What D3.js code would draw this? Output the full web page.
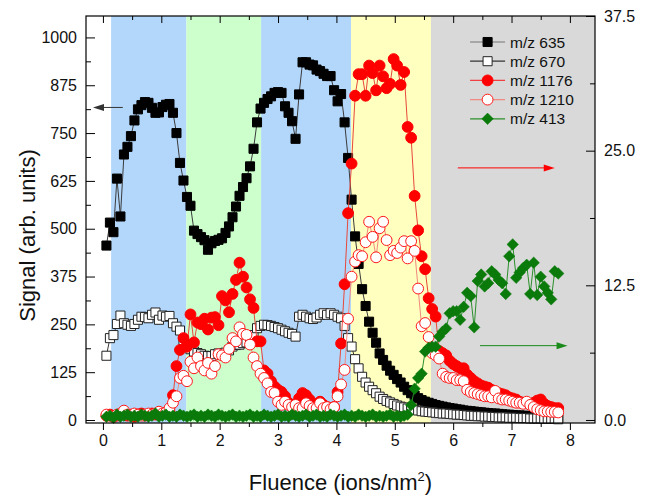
<!DOCTYPE html>
<html>
<head>
<meta charset="utf-8">
<script src="https://d3js.org/d3.v7.min.js"></script>
<style>
  body { margin: 0; background: #fff; }
  text { font-family: "Liberation Sans", Arial, sans-serif; fill: #111; }
  .tick text { font-size: 16px; }
  .tick line { stroke: #000; stroke-width: 1px; }
  .axis-title { font-size: 22px; }
  .legend text { font-size: 15.5px; }
</style>
</head>
<body>
<div id="chart"></div>
<script>
// fluence values (ions/nm^2), shared by every series
const fluence = [0.06,0.12,0.18,0.24,0.30,0.36,0.42,0.48,0.54,0.60,0.66,0.72,0.78,0.84,0.90,0.96,1.02,1.08,1.14,1.20,
  1.26,1.32,1.38,1.44,1.50,1.56,1.62,1.68,1.74,1.80,1.86,1.92,1.98,2.04,2.10,2.16,2.22,2.28,2.34,2.40,
  2.46,2.52,2.58,2.64,2.70,2.76,2.82,2.88,2.94,3.00,3.06,3.12,3.18,3.24,3.30,3.36,3.42,3.48,3.54,3.60,
  3.66,3.72,3.78,3.84,3.90,3.96,4.02,4.08,4.14,4.20,4.26,4.32,4.38,4.44,4.50,4.56,4.62,4.68,4.74,4.80,
  4.86,4.92,4.98,5.04,5.10,5.16,5.22,5.28,5.34,5.40,5.46,5.52,5.58,5.64,5.70,5.76,5.82,5.88,5.94,6.00,
  6.06,6.12,6.18,6.24,6.30,6.36,6.42,6.48,6.54,6.60,6.66,6.72,6.78,6.84,6.90,6.96,7.02,7.08,7.14,7.20,
  7.26,7.32,7.38,7.44,7.50,7.56,7.62,7.68,7.74,7.80];

// left axis series
const m635 = [456,516,491,631,532,694,714,742,783,812,823,831,829,816,803,804,818,824,826,803,
  750,672,626,583,560,495,486,478,470,445,462,468,471,475,489,506,530,558,586,609,
  632,663,709,778,814,829,839,846,855,857,855,820,803,781,735,851,935,935,929,927,
  916,912,905,899,899,862,833,852,778,685,576,480,408,342,298,257,228,202,174,157,
  142,129,118,107,98,87,78,70,64,57,52,48,45,42,39,37,35,33,31,30,
  28,27,25,24,23,22,21,20,19,18,17,17,16,15,14,14,13,12,12,11,
  11,10,10,9,9,8,8,7,7,6];
const m670 = [168,214,222,251,273,253,249,246,251,262,270,269,266,275,281,262,273,270,272,253,
  244,234,209,195,185,179,175,172,168,167,167,172,174,173,176,182,192,196,197,201,
  203,207,222,240,246,249,248,246,243,240,236,232,228,225,218,270,275,270,266,264,
  268,275,279,275,279,275,270,266,246,214,192,159,135,113,98,87,78,70,61,55,
  50,46,42,38,35,33,30,28,26,25,23,22,21,20,19,18,17,17,16,15,
  14,14,13,12,11,11,10,10,9,9,8,8,7,7,7,6,6,6,5,5,
  5,4,4,4,4,3,3,3,3,2];

// right axis series
const m1176 = [0.4,0.5,0.3,0.4,0.5,0.6,0.4,0.5,0.3,0.5,0.6,0.4,0.5,0.6,0.5,0.7,0.6,0.7,0.8,2.3,
  5.0,6.5,7.6,6.8,9.8,7.2,9.05,8.9,9.4,8.4,9.5,9.55,8.8,11.5,11.1,10.0,11.7,13.0,14.6,13.3,
  12.3,11.2,10.4,7.3,7.3,4.6,4.3,3.6,3.1,2.8,2.6,2.2,1.6,1.4,1.2,2.0,2.5,2.3,1.9,1.5,
  1.4,1.7,1.4,1.2,1.1,1.2,2.6,7.1,12.6,19.2,23.8,30.1,32.1,32.1,30.1,32.9,32.2,30.6,32.9,31.9,
  30.8,31.2,33.5,32.9,31.1,32.3,27.2,26.2,20.8,17.6,15.2,14.0,11.3,10.3,9.6,6.4,6.2,6.0,5.5,5.2,
  5.0,4.8,4.8,4.2,3.9,3.6,3.4,3.2,3.1,3.0,2.8,2.6,2.5,2.4,2.3,2.1,2.0,1.9,1.7,1.6,
  1.55,1.5,1.6,1.8,1.9,1.5,1.3,1.2,1.1,1.1];
const m1210 = [0.5,0.4,0.3,0.5,0.6,0.87,0.5,0.4,0.6,0.5,0.4,0.5,0.6,0.5,0.6,0.77,0.6,0.7,1.1,1.6,
  2.2,3.9,4.1,3.6,5.4,4.8,5.8,5.0,4.6,5.3,4.3,5.0,6.1,6.0,5.8,6.6,7.6,7.3,8.6,8.0,
  7.9,7.0,5.8,5.0,4.3,3.9,3.4,2.6,2.5,1.7,1.4,1.7,1.4,1.2,1.4,1.1,1.1,1.55,1.3,1.1,
  1.1,1.55,1.1,1.2,1.0,1.2,2.2,3.3,4.65,9.4,13.3,14.7,15.3,15.2,16.5,18.4,17.0,15.1,17.8,18.4,
  16.7,15.3,15.7,15.5,16.0,16.6,15.0,16.6,15.7,12.2,8.7,9.0,7.7,6.2,6.0,5.7,4.3,4.0,3.9,3.9,
  3.7,3.7,3.6,2.8,2.6,2.5,2.4,2.3,2.2,2.2,2.1,2.7,2.0,1.9,1.9,1.8,1.7,1.6,1.6,1.5,
  1.7,1.4,1.2,1.0,0.9,0.8,0.8,0.75,0.75,0.7];
const m413 = [0.3,0.4,0.2,0.5,0.3,0.4,0.5,0.3,0.4,0.3,0.5,0.4,0.3,0.4,0.6,0.3,0.4,0.5,0.3,0.4,
  0.3,0.5,0.4,0.3,0.4,0.5,0.3,0.4,0.3,0.5,0.4,0.3,0.5,0.4,0.3,0.4,0.5,0.3,0.4,0.3,
  0.4,0.5,0.3,0.4,0.3,0.5,0.4,0.3,0.4,0.5,0.3,0.4,0.3,0.5,0.4,0.3,0.4,0.5,0.3,0.4,
  0.5,0.3,0.4,0.3,0.5,0.4,0.3,0.4,0.5,0.3,0.4,0.3,0.5,0.4,0.3,0.4,0.5,0.3,0.4,0.3,
  0.4,0.5,0.3,0.4,0.3,0.4,0.5,1.4,2.9,3.9,4.3,6.35,6.7,6.8,6.8,7.75,8.2,8.5,9.9,10.1,
  10.1,9.3,10.5,11.8,11.5,8.6,12.9,13.5,12.4,12.7,13.8,13.5,13.0,12.7,11.7,15.2,16.3,13.2,13.7,14.1,
  14.4,11.7,14.6,11.6,13.3,12.4,11.8,11.2,13.8,13.6];

// shaded fluence regions
const bandEdges = [0.14, 1.43, 2.71, 4.25, 5.62];
const bandColors = ["#b3d7fb", "#ccffcc", "#b3d7fb", "#ffffc0", "#d9d9d9"];

// ticks
const xTicks = [0,1,2,3,4,5,6,7,8];
const xMinor = [0.5,1.5,2.5,3.5,4.5,5.5,6.5,7.5];
const leftTicks = [0,125,250,375,500,625,750,875,1000];
const leftMinor = [62.5,187.5,312.5,437.5,562.5,687.5,812.5,937.5];
const rightTicks = [0,12.5,25,37.5];
const rightMinor = [6.25,18.75,31.25];

// axis indicator arrows
const arrows = [
  {x1: 0.34, x2: -0.17, y: 817, axis: "left", color: "#333"},
  {x1: 6.08, x2: 7.74, y: 23.4, axis: "right", color: "#ff0000"},
  {x1: 6.46, x2: 7.96, y: 6.9, axis: "right", color: "#1a8a1a"}
];

const margin = {top: 16, right: 50, bottom: 78, left: 86},
    width = 645 - margin.left - margin.right,
    height = 501 - margin.top - margin.bottom;

const svg = d3.select("#chart")
  .append("svg")
    .attr("width", 645)
    .attr("height", 501)
  .append("g")
    .attr("transform", `translate(${margin.left}, ${margin.top})`);

const x = d3.scaleLinear().domain([-0.29, 8.43]).range([0, width]);
const yL = d3.scaleLinear().domain([-7.8, 1056]).range([height, 0]);
const yR = d3.scaleLinear().domain([-0.28, 37.5]).range([height, 0]);

// background bands
const bandEnds = bandEdges.slice(1).concat([x.domain()[1]]);
svg.selectAll("rect.band")
  .data(bandEdges)
  .join("rect")
    .attr("class", "band")
    .attr("x", d => x(d))
    .attr("y", 0)
    .attr("width", (d, i) => x(bandEnds[i]) - x(d))
    .attr("height", height)
    .attr("fill", (d, i) => bandColors[i]);

// series
const series = [
  {name: "m/z 635", values: m635, y: yL, shape: "square", fill: "#000", stroke: "#000", line: "#3a3a3a", legendLine: "#777"},
  {name: "m/z 670", values: m670, y: yL, shape: "square", fill: "#fff", stroke: "#222", line: "#3a3a3a", legendLine: "#333"},
  {name: "m/z 1176", values: m1176, y: yR, shape: "circle", fill: "#ff0000", stroke: "#ff0000", line: "#e8483a", legendLine: "#f04040"},
  {name: "m/z 1210", values: m1210, y: yR, shape: "circle", fill: "#fff", stroke: "#ff1a1a", line: "#f08a80", legendLine: "#f08a80"},
  {name: "m/z 413", values: m413, y: yR, shape: "diamond", fill: "#0a7a0a", stroke: "#0a7a0a", line: "#2a8f2a", legendLine: "#2a8f2a"}
];

const symbolPath = {
  square: d3.symbol().type(d3.symbolSquare).size(82)(),
  circle: d3.symbol().type(d3.symbolCircle).size(92)(),
  diamond: d3.symbol().type(d3.symbolSquare).size(66)()
};

series.forEach(s => {
  const pts = fluence.map((f, i) => [f, s.values[i]]);
  svg.append("path")
    .datum(pts)
    .attr("fill", "none")
    .attr("stroke", s.line)
    .attr("stroke-width", 1)
    .attr("d", d3.line().x(d => x(d[0])).y(d => s.y(d[1])));

  svg.append("g")
    .selectAll("path")
    .data(pts)
    .join("path")
      .attr("d", symbolPath[s.shape])
      .attr("transform", d => `translate(${x(d[0])},${s.y(d[1])})` + (s.shape === "diamond" ? " rotate(45)" : ""))
      .attr("fill", s.fill)
      .attr("stroke", s.stroke)
      .attr("stroke-width", s.shape === "diamond" ? 0.5 : 1);
});

// arrows
svg.selectAll("g.arrow")
  .data(arrows)
  .join("g")
    .attr("class", "arrow")
    .each(function(a) {
      const sc = a.axis === "left" ? yL : yR;
      const g = d3.select(this);
      const px1 = x(a.x1), px2 = x(a.x2), py = sc(a.y);
      const dir = px2 > px1 ? 1 : -1;
      g.append("line")
        .attr("x1", px1).attr("x2", px2 - dir * 8)
        .attr("y1", py).attr("y2", py)
        .attr("stroke", a.color).attr("stroke-width", 1);
      g.append("path")
        .attr("d", `M${px2},${py} L${px2 - dir * 11},${py - 3.5} L${px2 - dir * 11},${py + 3.5} Z`)
        .attr("fill", a.color);
    });

// axes
function clean(g) { g.select(".domain").remove(); }

svg.append("g")
  .attr("transform", `translate(0, ${height})`)
  .call(d3.axisBottom(x).tickValues(xTicks).tickSize(7).tickPadding(5).tickFormat(d3.format("d")))
  .call(clean);
svg.append("g")
  .attr("transform", `translate(0, ${height})`)
  .call(d3.axisBottom(x).tickValues(xMinor).tickSize(4).tickFormat(""))
  .call(clean);
svg.append("g")
  .call(d3.axisTop(x).tickValues(xTicks).tickSize(-7).tickFormat(""))
  .call(clean);
svg.append("g")
  .call(d3.axisTop(x).tickValues(xMinor).tickSize(-4).tickFormat(""))
  .call(clean);

svg.append("g")
  .call(d3.axisLeft(yL).tickValues(leftTicks).tickSize(-9).tickPadding(9).tickFormat(d3.format("d")))
  .call(clean);
svg.append("g")
  .call(d3.axisLeft(yL).tickValues(leftMinor).tickSize(-5).tickFormat(""))
  .call(clean);

svg.append("g")
  .attr("transform", `translate(${width}, 0)`)
  .call(d3.axisRight(yR).tickValues(rightTicks).tickSize(-9).tickPadding(9).tickFormat(d3.format(".1f")))
  .call(clean);
svg.append("g")
  .attr("transform", `translate(${width}, 0)`)
  .call(d3.axisRight(yR).tickValues(rightMinor).tickSize(-5).tickFormat(""))
  .call(clean);

svg.selectAll(".tick text").attr("fill", "#111");

// frame
svg.append("rect")
  .attr("width", width)
  .attr("height", height)
  .attr("fill", "none")
  .attr("stroke", "#000")
  .attr("stroke-width", 1.2);

// axis titles
svg.append("text")
  .attr("class", "axis-title")
  .attr("transform", `translate(${-51}, ${height / 2 + 16}) rotate(-90)`)
  .attr("text-anchor", "middle")
  .text("Signal (arb. units)");

const xt = svg.append("text")
  .attr("class", "axis-title")
  .attr("x", width / 2)
  .attr("y", height + 67)
  .attr("text-anchor", "middle");
xt.append("tspan").text("Fluence (ions/nm");
xt.append("tspan").attr("dy", -9).style("font-size", "13px").text("2");
xt.append("tspan").attr("dy", 9).text(")");

// legend
const legend = svg.append("g")
  .attr("class", "legend")
  .attr("transform", `translate(${x(6.29)}, ${26})`);

const rows = legend.selectAll("g")
  .data(series)
  .join("g")
    .attr("transform", (d, i) => `translate(0, ${i * 19.2})`);
rows.append("line")
  .attr("x1", 0).attr("x2", 35)
  .attr("stroke", d => d.legendLine)
  .attr("stroke-width", 1.2);
rows.append("path")
  .attr("d", d => symbolPath[d.shape])
  .attr("transform", d => "translate(17.5,0)" + (d.shape === "diamond" ? " rotate(45)" : ""))
  .attr("fill", d => d.fill)
  .attr("stroke", d => d.stroke)
  .attr("stroke-width", d => d.shape === "diamond" ? 0.5 : 1);
rows.append("text")
  .attr("x", 40)
  .attr("dy", "0.36em")
  .text(d => d.name);
</script>
</body>
</html>
